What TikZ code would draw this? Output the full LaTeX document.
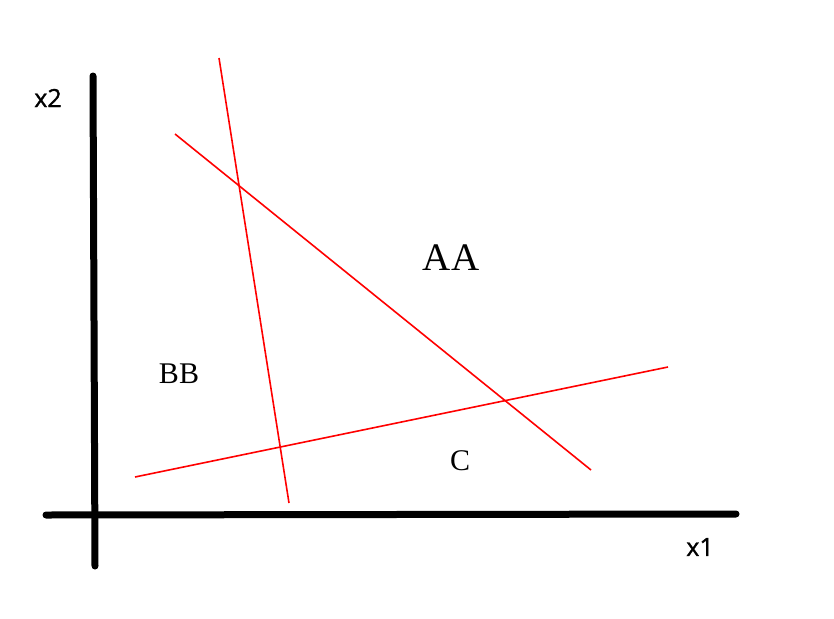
\documentclass[tikz,border=0pt]{standalone}
\usepackage{fontspec}
\setmainfont{Liberation Serif}
\newfontfamily\axfont[FakeBold=1.2]{Open Sans}
\begin{document}
\begin{tikzpicture}[x=1pt,y=-1pt,
  axis/.style={line width=7pt,line cap=round,black},
  border/.style={red,line width=1.6pt},
  axlabel/.style={font=\axfont\fontsize{25}{28}\selectfont},
  region/.style={font=\fontsize{32}{36}\selectfont}]
\useasboundingbox (0,0) rectangle (834,618);
\coordinate (ytop) at (93,76);
\coordinate (ybot) at (95,566);
\coordinate (xl) at (46,515);
\coordinate (xr) at (736,514);
\draw[axis] (ytop) -- (ybot);
\draw[axis] (xl) -- (xr);
\coordinate (a1) at (219,58);
\coordinate (a2) at (289,503);
\coordinate (b1) at (175,134);
\coordinate (b2) at (591,470);
\coordinate (c1) at (135,477);
\coordinate (c2) at (668,367);
\draw[border] (a1) -- (a2);
\draw[border] (b1) -- (b2);
\draw[border] (c1) -- (c2);
\node[axlabel] (lx2) at (48,98) {x2};
\node[axlabel] (lx1) at (700,547) {x1};
\node[region,font=\fontsize{39}{42}\selectfont] (aa) at (451,258) {AA};
\node[region,font=\fontsize{30}{34}\selectfont] (bb) at (179,374) {BB};
\node[region,font=\fontsize{30}{34}\selectfont] (cc) at (460,461) {C};
\end{tikzpicture}
\end{document}
